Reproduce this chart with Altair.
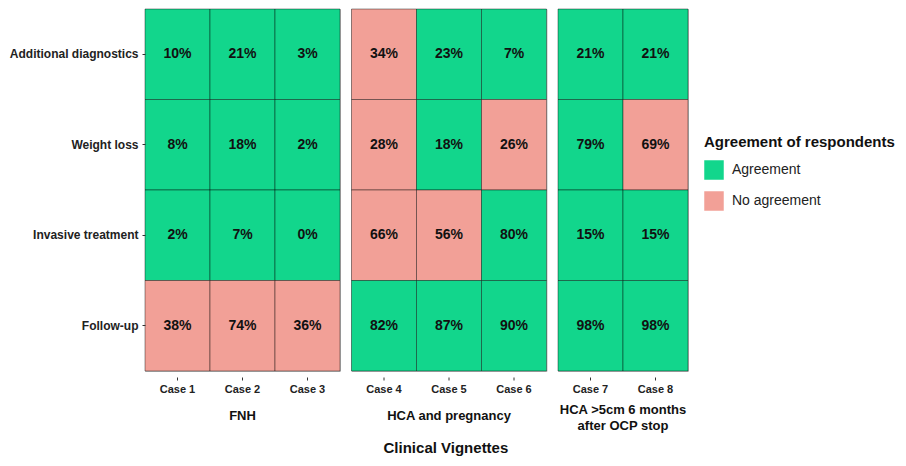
import altair as alt
import pandas as pd

rows = ["Additional diagnostics", "Weight loss", "Invasive treatment", "Follow-up"]
cases = ["Case 1", "Case 2", "Case 3", "Case 4", "Case 5", "Case 6", "Case 7", "Case 8"]
groups = ["FNH", "HCA and pregnancy", "HCA >5cm 6 months after OCP stop"]
group_of_case = ["FNH", "FNH", "FNH",
                 "HCA and pregnancy", "HCA and pregnancy", "HCA and pregnancy",
                 "HCA >5cm 6 months after OCP stop", "HCA >5cm 6 months after OCP stop"]
group_titles = [["FNH"], ["HCA and pregnancy"], ["HCA >5cm 6 months", "after OCP stop"]]

pct = {
    "Additional diagnostics": [10, 21, 3, 34, 23, 7, 21, 21],
    "Weight loss":            [8, 18, 2, 28, 18, 26, 79, 69],
    "Invasive treatment":     [2, 7, 0, 66, 56, 80, 15, 15],
    "Follow-up":              [38, 74, 36, 82, 87, 90, 98, 98],
}
agree = {
    "Additional diagnostics": ["A", "A", "A", "N", "A", "A", "A", "A"],
    "Weight loss":            ["A", "A", "A", "N", "A", "N", "A", "N"],
    "Invasive treatment":     ["A", "A", "A", "N", "N", "A", "A", "A"],
    "Follow-up":              ["N", "N", "N", "A", "A", "A", "A", "A"],
}
labels = {"A": "Agreement", "N": "No agreement"}

recs = []
for r in rows:
    for i, c in enumerate(cases):
        recs.append({"row": r, "case": c, "group": group_of_case[i],
                     "pct": pct[r][i], "label": f"{pct[r][i]}%",
                     "agreement": labels[agree[r][i]]})
df = pd.DataFrame(recs)

color_scale = alt.Scale(domain=["Agreement", "No agreement"], range=["#12D68C", "#F2A097"])
FONT = "Liberation Sans"

panels = []
for gi, g in enumerate(groups):
    sub = df[df["group"] == g]
    gcases = [c for c, gg in zip(cases, group_of_case) if gg == g]
    x = alt.X("case:N", sort=gcases, title=None,
              scale=alt.Scale(paddingInner=0, paddingOuter=0),
              axis=alt.Axis(labelAngle=0, domain=False, tickSize=3, tickColor="#333",
                            labelFont=FONT, labelFontSize=11, labelFontWeight="bold",
                            labelColor="#222", labelPadding=3, offset=6))
    if gi == 0:
        yaxis = alt.Axis(domain=False, tickSize=3, tickColor="#333", labelFont=FONT,
                         labelFontSize=12, labelFontWeight="bold", labelColor="#222",
                         labelPadding=4)
    else:
        yaxis = None
    y = alt.Y("row:N", sort=rows, title=None,
              scale=alt.Scale(paddingInner=0, paddingOuter=0), axis=yaxis)
    base = alt.Chart(sub)
    rect = base.mark_rect(stroke="black", strokeOpacity=0.5, strokeWidth=0.8).encode(
        x=x, y=y,
        color=alt.Color("agreement:N", scale=color_scale,
                        legend=alt.Legend(title="Agreement of respondents", orient="none",
                                          legendX=559, legendY=126,
                                          titleFont=FONT, titleFontSize=15, titleFontWeight="bold",
                                          titleColor="#111", titleLimit=400,
                                          labelFont=FONT, labelFontSize=14, labelLimit=300,
                                          labelColor="#222", symbolType="square", symbolSize=380,
                                          symbolStrokeWidth=0, rowPadding=11, titlePadding=10,
                                          labelOffset=8)),
    )
    text = base.mark_text(font=FONT, fontSize=14, fontWeight="bold", color="#111").encode(
        x=alt.X("case:N", sort=gcases), y=alt.Y("row:N", sort=rows), text="label:N")
    tp = dict(orient="bottom", anchor="middle", frame="group", font=FONT, fontSize=13,
              fontWeight="bold", color="#111", offset=10, lineHeight=16)
    if len(group_titles[gi]) == 1:
        tp["dy"] = 6
    p = alt.layer(rect, text).properties(
        width=65 * len(gcases), height=362,
        title=alt.TitleParams(group_titles[gi], **tp),
    )
    panels.append(p)

chart = alt.hconcat(*panels, spacing=9.5).properties(
    title=alt.TitleParams("Clinical Vignettes", orient="bottom", anchor="middle",
                          font=FONT, fontSize=15, fontWeight="bold", color="#111", offset=7,
                          dx=-6),
    padding={"left": 0, "top": 0, "right": 0, "bottom": 0},
).resolve_scale(x="independent").configure_view(stroke="#BBBBBB", strokeWidth=1)

chart.save("out.html", embed_options={"renderer": "svg", "actions": False})
